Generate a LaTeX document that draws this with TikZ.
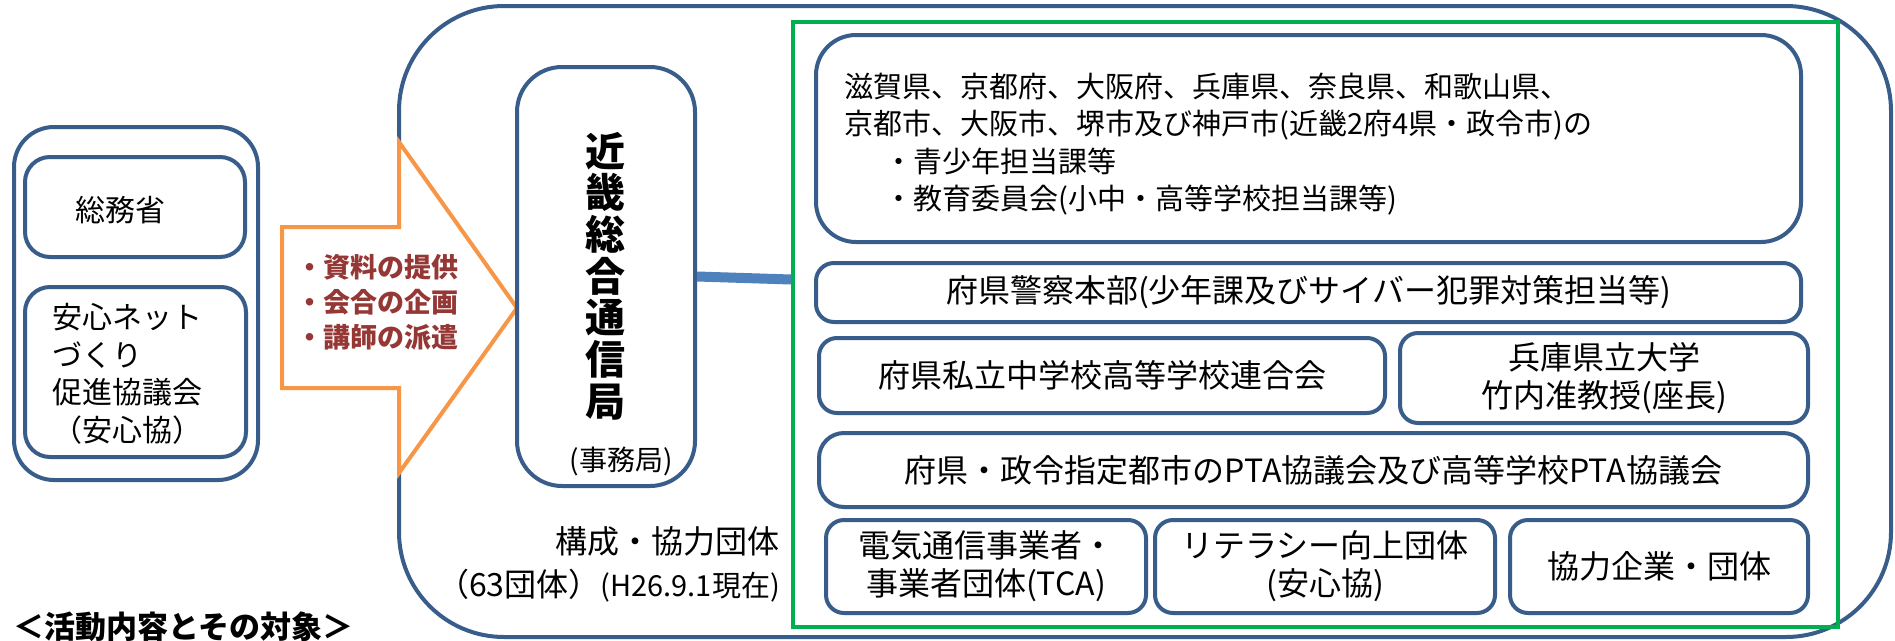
\documentclass[tikz,border=0pt]{standalone}
\usepackage{fontspec}
\setmainfont{Noto Sans CJK JP}
\usetikzlibrary{calc,fit}
\definecolor{boxblue}{HTML}{385D8A}
\definecolor{connblue}{HTML}{4F81BD}
\definecolor{arroworange}{HTML}{F79646}
\definecolor{grpgreen}{HTML}{00B050}
\definecolor{arrowred}{HTML}{953735}
\begin{document}
\begin{tikzpicture}[x=1pt,y=-1pt,
  bbox/.style={draw=boxblue,line width=4pt,fill=white,rounded corners=#1,inner sep=0pt},
  bbox/.default=18pt,
  txt/.style={inner sep=0pt,text=black},
  mid/.style={font=\fontsize{32}{38}\selectfont,align=center,text=black},
  conn/.style={draw=connblue,line width=10pt},
  bigarrow/.style={draw=arroworange,fill=white,line width=4pt,line join=miter}]
\useasboundingbox (0,0) rectangle (1895,640);
% left group
\node[bbox=40pt, fit={(14,127) (258,480)}] (leftgrp) {};
\node[bbox=25pt, fit={(25,157) (245,257)}] (somu) {};
\node[bbox=25pt, fit={(25,287) (246,457)}] (anshin) {};
\node[txt, anchor=west, font=\fontsize{30}{36}\selectfont] (somutxt) at (75,210) {総務省};
\node[txt, anchor=west, align=left, font=\fontsize{30}{37.5}\selectfont] (anshintxt) at (52,374) {安心ネット\\づくり\\促進協議会\\（安心協）};
% big outer box
\node[bbox=105pt, fit={(399,6) (1891,637)}] (outer) {};
% arrow
\draw[bigarrow] (282,227) -- (399,227) -- (399,142) -- (517,308) -- (399,473) -- (399,388) -- (282,388) -- cycle;
\node[txt, anchor=west, align=left, text=arrowred, font=\bfseries\fontsize{27}{35}\selectfont] (acts) at (296,302) {・資料の提供\\・会合の企画\\・講師の派遣};
% kinki box
\node[bbox=45pt, fit={(517,67) (695,486)}] (kinki) {};
\node[txt, align=center, font=\bfseries\fontsize{40}{41.7}\selectfont] (kinkitxt) at (605,276) {近\\畿\\総\\合\\通\\信\\局};
\node[txt, font=\fontsize{28}{32}\selectfont] (jimu) at (621,461) {(事務局)};
\node[txt, anchor=east, font=\fontsize{32}{36}\selectfont] (kosei) at (780,541) {構成・協力団体};
\node[txt, anchor=east] (count) at (780,586) {\fontsize{32}{36}\selectfont （63団体）\fontsize{29}{32}\selectfont(H26.9.1現在)};
% green group
\node[draw=grpgreen, line width=4pt, inner sep=0pt, fit={(793,22) (1838,627)}] (grp) {};
\draw[conn] (kinki.east) -- ($(grp.west |- kinki.east)+(0,3)$);
% inner boxes
\node[bbox=40pt, fit={(816,35) (1801,242)}] (pref) {};
\node[txt, anchor=west, align=left, font=\fontsize{29}{37.3}\selectfont] (preftxt) at (844,144) {滋賀県、京都府、大阪府、兵庫県、奈良県、和歌山県、\\京都市、大阪市、堺市及び神戸市(近畿2府4県・政令市)の\\\hspace*{40pt}・青少年担当課等\\\hspace*{40pt}・教育委員会(小中・高等学校担当課等)};
\node[bbox, fit={(816,263) (1801,322)}] (police) {};
\node[mid] at (police.center) {府県警察本部(少年課及びサイバー犯罪対策担当等)};
\node[bbox, fit={(819,338) (1385,413)}] (private) {};
\node[mid] at (private.center) {府県私立中学校高等学校連合会};
\node[bbox, fit={(1400,333) (1808,423)}] (hyogo) {};
\node[mid] at (hyogo.center) {兵庫県立大学\\竹内准教授(座長)};
\node[bbox=25pt, fit={(819,433) (1808,507)}] (pta) {};
\node[mid] at (pta.center) {府県・政令指定都市のPTA協議会及び高等学校PTA協議会};
\node[bbox, fit={(826,520) (1146,613)}] (tca) {};
\node[mid] at (tca.center) {電気通信事業者・\\事業者団体(TCA)};
\node[bbox, fit={(1155,520) (1495,613)}] (lit) {};
\node[mid] at (lit.center) {リテラシー向上団体\\(安心協)};
\node[bbox, fit={(1510,520) (1808,613)}] (corp) {};
\node[mid] at (corp.center) {協力企業・団体};
% title
\node[txt, anchor=west, font=\bfseries\fontsize{31}{36}\selectfont] (title) at (13,627) {＜活動内容とその対象＞};
\end{tikzpicture}
\end{document}
